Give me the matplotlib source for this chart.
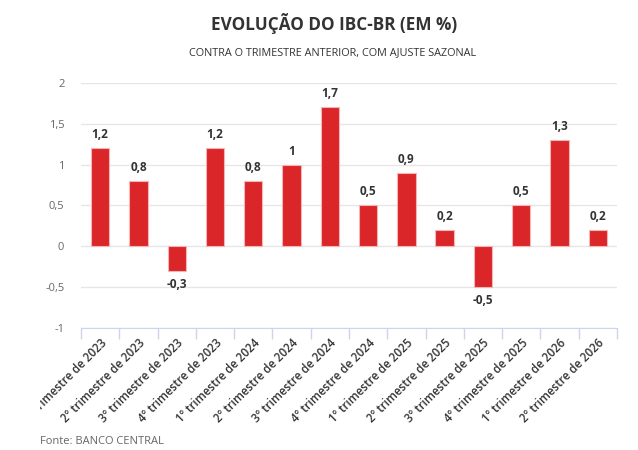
import matplotlib.pyplot as plt
import numpy as np
from matplotlib.transforms import Bbox

plt.rcParams['font.family'] = ['Open Sans', 'DejaVu Sans']

categorias = [
    "1º trimestre de 2023", "2º trimestre de 2023", "3º trimestre de 2023", "4º trimestre de 2023",
    "1º trimestre de 2024", "2º trimestre de 2024", "3º trimestre de 2024", "4º trimestre de 2024",
    "1º trimestre de 2025", "2º trimestre de 2025", "3º trimestre de 2025", "4º trimestre de 2025",
    "1º trimestre de 2026", "2º trimestre de 2026",
]
valores = [1.2, 0.8, -0.3, 1.2, 0.8, 1.0, 1.7, 0.5, 0.9, 0.2, -0.5, 0.5, 1.3, 0.2]
y_ticks = [-1, -0.5, 0, 0.5, 1, 1.5, 2]

def br(v):
    # decimal com virgula
    return ("%g" % v).replace(".", ",")

fig = plt.figure(figsize=(6.38, 4.5), dpi=100)
ax = fig.add_axes([0.127, 0.271, 0.84, 0.545])

x = np.arange(len(valores))
ax.bar(x, valores, width=0.48, color="#da2629", edgecolor="#f5b5b6", linewidth=0.8, zorder=3)

for xi, v in zip(x, valores):
    if v >= 0:
        ax.annotate(br(v), (xi, v), xytext=(0, 5), textcoords="offset points",
                    ha="center", va="bottom", fontsize=8.5, fontweight="bold", color="#333333")
    else:
        ax.annotate(br(v), (xi, v), xytext=(0, -5), textcoords="offset points",
                    ha="center", va="top", fontsize=8.5, fontweight="bold", color="#333333")

ax.set_ylim(-1, 2)
ax.set_xlim(-0.5, len(valores) - 0.5)
ax.set_yticks(y_ticks)
ax.set_yticklabels([br(t) for t in y_ticks], fontsize=8, color="#666666")
ax.tick_params(axis="y", length=0, pad=12)
ax.yaxis.grid(True, color="#e6e6e6", linewidth=1, zorder=0)

ax.set_xticks(x)
ax.set_xticklabels(categorias, rotation=45, ha="right", rotation_mode="anchor",
                   fontsize=8.3, fontweight="semibold", color="#333333")
ax.tick_params(axis="x", length=0, pad=6)
ax.set_xticks(np.arange(-0.5, len(valores), 1), minor=True)
ax.tick_params(axis="x", which="minor", length=8, color="#ccd6eb", width=1)

# the first label is cut at the left of the chart area
clip = Bbox.from_extents(40, 0, 638, 450)
for lbl in ax.get_xticklabels():
    lbl.set_clip_box(clip)
    lbl.set_clip_on(True)

for s in ["top", "right", "left"]:
    ax.spines[s].set_visible(False)
ax.spines["bottom"].set_color("#ccd6eb")

fig.text(0.523, 0.947, "EVOLUÇÃO DO IBC-BR (EM %)", ha="center", va="center",
         fontsize=12.3, fontweight="bold", color="#333333")
fig.text(0.522, 0.884, "CONTRA O TRIMESTRE ANTERIOR, COM AJUSTE SAZONAL", ha="center", va="center",
         fontsize=7.8, color="#333333")
fig.text(0.063, 0.02, "Fonte: BANCO CENTRAL", ha="left", va="center", fontsize=8, color="#666666")

fig.savefig("out.png", dpi=100)
